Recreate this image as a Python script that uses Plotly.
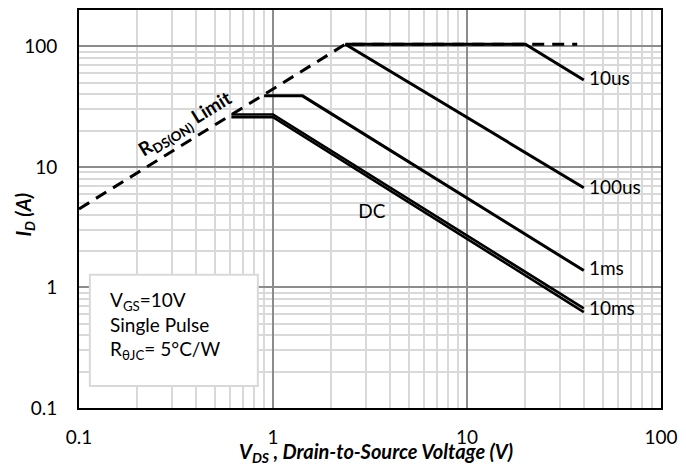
import math
import plotly.graph_objects as go

# Safe operating area, log-log
vds_rdson = [0.1, 2.36, 37]
id_rdson = [4.48, 104, 104]

vds_10us = [2.36, 20, 40]
id_10us = [104, 104, 52.5]

vds_100us = [2.36, 40]
id_100us = [104, 6.71]

vds_1ms = [0.9, 1.42, 40]
id_1ms = [38.8, 38.8, 1.38]

vds_10ms = [0.61, 1.0, 40]
id_10ms = [27.2, 27.2, 0.67]

vds_dc = [0.61, 1.0, 40]
id_dc = [25.8, 25.8, 0.625]

curve_labels = ["10us", "100us", "1ms", "10ms"]
label_x = [42.5, 42.5, 42.5, 42.5]
label_y = [52.5, 6.5, 1.38, 0.645]

dc_label_x = [3.23]
dc_label_y = [4.15]

x_ticks = [0.1, 1, 10, 100]
x_ticktext = ["0.1", "1", "10", "100"]
y_ticks = [0.1, 1, 10, 100]
y_ticktext = ["0.1", "1", "10", "100"]

FONT = "Lato"

fig = go.Figure()

fig.add_trace(go.Scatter(x=vds_rdson, y=id_rdson, mode="lines",
                         line=dict(color="black", width=3, dash="12px,8px")))
for xs, ys, w in [(vds_10us, id_10us, 3), (vds_100us, id_100us, 3), (vds_1ms, id_1ms, 3),
                  (vds_10ms, id_10ms, 2.6), (vds_dc, id_dc, 2.6)]:
    fig.add_trace(go.Scatter(x=xs, y=ys, mode="lines",
                             line=dict(color="black", width=w)))

fig.add_trace(go.Scatter(x=label_x, y=label_y, mode="text", text=curve_labels,
                         textposition="middle right",
                         textfont=dict(family=FONT, size=19, color="black")))
fig.add_trace(go.Scatter(x=dc_label_x, y=dc_label_y, mode="text", text=["DC"],
                         textposition="middle center",
                         textfont=dict(family=FONT, size=19, color="black")))

# R_DS(ON) limit label along the dashed line
fig.add_annotation(x=math.log10(0.356), y=math.log10(22.5), xref="x", yref="y",
                   text="<b>R<sub>DS(ON)</sub> Limit</b>", showarrow=False,
                   textangle=-31.7, font=dict(family=FONT, size=19, color="black"))

# Conditions box
fig.add_shape(type="rect", xref="paper", yref="paper",
              x0=(90 - 79) / 589, x1=(260 - 79) / 589,
              y0=(408 - 386) / 400, y1=(408 - 274) / 400,
              line=dict(color="#d9d9d9", width=2), fillcolor="white", layer="above")
fig.add_annotation(xref="paper", yref="paper", x=(108 - 79) / 589, y=(408 - 325) / 400,
                   xanchor="left", yanchor="middle", align="left", showarrow=False,
                   text="V<sub>GS</sub>=10V<br>Single Pulse<br>R<sub>θJC</sub>= 5°C/W",
                   font=dict(family=FONT, size=19, color="black"))

# Axis titles
fig.add_annotation(xref="paper", yref="paper", x=(380 - 79) / 589, y=(408 - 453) / 400,
                   xanchor="center", yanchor="middle", showarrow=False,
                   text="<b><i>V<sub>DS</sub> , Drain-to-Source Voltage (V)</i></b>",
                   font=dict(family=FONT, size=20, color="black"))
fig.add_annotation(xref="paper", yref="paper", x=(24 - 79) / 589, y=(408 - 214) / 400,
                   xanchor="center", yanchor="middle", showarrow=False, textangle=-90,
                   text="<b><i>I<sub>D</sub> (A)</i></b>",
                   font=dict(family=FONT, size=20, color="black"))

axis_common = dict(
    type="log", showline=True, mirror=True, linecolor="black", linewidth=2,
    showgrid=True, gridcolor="#8c8c8c", gridwidth=1.5, zeroline=False,
    ticks="", tickmode="array",
    tickfont=dict(family=FONT, size=19, color="black"),
    minor=dict(dtick="D1", showgrid=True, gridcolor="#d9d9d9", gridwidth=1.5, ticks=""),
)

fig.update_xaxes(range=[-1, 2], tickvals=x_ticks, ticktext=x_ticktext,
                 ticklabelstandoff=11, **axis_common)
fig.update_yaxes(range=[-1, math.log10(200)], tickvals=y_ticks, ticktext=y_ticktext,
                 ticklabelstandoff=16, **axis_common)

fig.update_layout(width=686, height=466, showlegend=False,
                  margin=dict(l=79, r=18, t=8, b=58),
                  paper_bgcolor="white", plot_bgcolor="white",
                  font=dict(family=FONT, color="black"))

fig.write_html("out.html")
